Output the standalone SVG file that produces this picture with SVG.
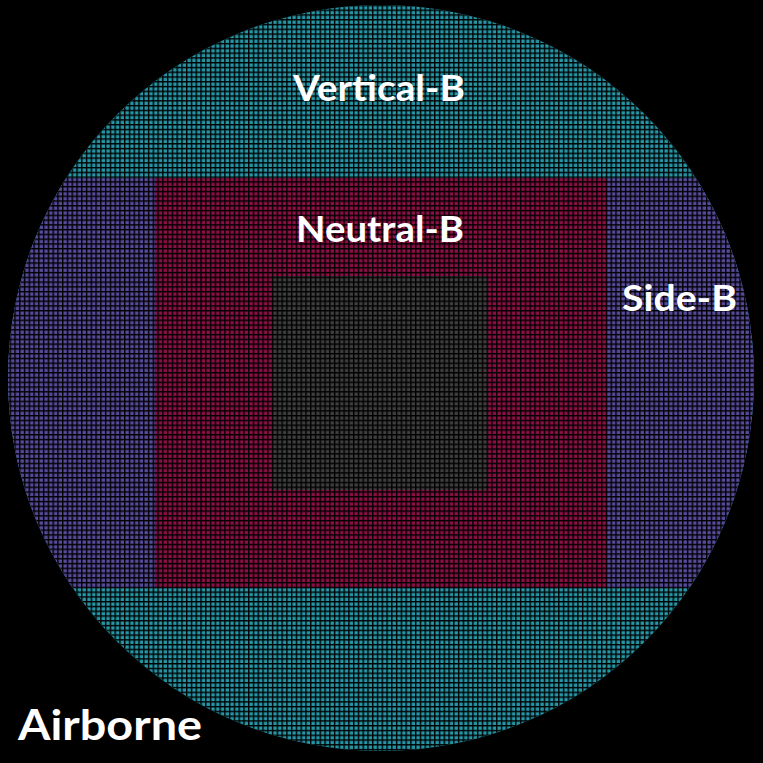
<svg xmlns="http://www.w3.org/2000/svg" width="763" height="763" viewBox="0 0 763 763">
<defs>
<pattern id="grid" patternUnits="userSpaceOnUse" x="0" y="0" width="4.77" height="4.77">
<rect x="0" y="0" width="4.77" height="1.4" fill="#000"/>
<rect x="0" y="0" width="1.4" height="4.77" fill="#000"/>
</pattern>
<clipPath id="disc"><circle cx="381" cy="378" r="373"/></clipPath>
</defs>
<style>
.lbl{font-family:Lato,"Open Sans","Liberation Sans",sans-serif;font-weight:bold;fill:#fff}
</style>
<rect width="763" height="763" fill="#000"/>
<g id="wafer" clip-path="url(#disc)">
<rect id="vertical" x="0" y="0" width="763" height="763" fill="#2596a6"/>
<rect id="side" x="0" y="178" width="763" height="410" fill="#574a9a"/>
<rect id="neutral" x="155" y="178" width="452" height="410" fill="#8c0f45"/>
<rect id="core" x="273" y="276" width="215" height="214" fill="#3e3e3e"/>
<rect x="0" y="0" width="763" height="763" fill="url(#grid)"/>
</g>
<g id="labels">
<text class="lbl" x="379" y="101" font-size="36" text-anchor="middle" textLength="172" lengthAdjust="spacingAndGlyphs">Vertical-B</text>
<text class="lbl" x="380" y="242" font-size="36" text-anchor="middle" textLength="168" lengthAdjust="spacingAndGlyphs">Neutral-B</text>
<text class="lbl" x="622" y="311" font-size="36" textLength="115" lengthAdjust="spacingAndGlyphs">Side-B</text>
<text class="lbl" x="18" y="740" font-size="42" font-weight="600" textLength="184" lengthAdjust="spacingAndGlyphs">Airborne</text>
</g>
</svg>
